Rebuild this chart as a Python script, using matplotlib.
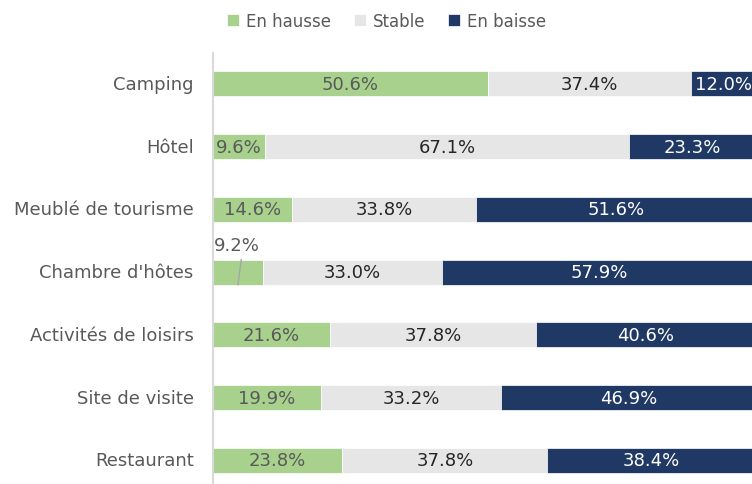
import numpy as np
import matplotlib.pyplot as plt

plt.rcParams['font.family'] = ['DejaVu Sans']

categories = ["Camping", "Hôtel", "Meublé de tourisme", "Chambre d'hôtes",
              "Activités de loisirs", "Site de visite", "Restaurant"]
hausse = [50.6, 9.6, 14.6, 9.2, 21.6, 19.9, 23.8]
stable = [37.4, 67.1, 33.8, 33.0, 37.8, 33.2, 37.8]
baisse = [12.0, 23.3, 51.6, 57.9, 40.6, 46.9, 38.4]

series = [("En hausse", hausse, "#A9D18E", "#595959"),
          ("Stable", stable, "#E7E6E6", "#262626"),
          ("En baisse", baisse, "#203864", "white")]

W, H = 752, 485
fig = plt.figure(figsize=(W / 100, H / 100), dpi=100)
top_px, bot_px = 53.5, 492.8
ax = fig.add_axes([213 / W, 1 - bot_px / H, 543 / W, (bot_px - top_px) / H])

FS = 13

y = np.arange(len(categories))
left = np.zeros(len(categories))
for name, vals, color, tcolor in series:
    vals = np.array(vals)
    ax.barh(y, vals, left=left, height=0.4, color=color,
            edgecolor="white", linewidth=0.5, label=name)
    for i, (v, l) in enumerate(zip(vals, left)):
        if name == "En hausse" and categories[i] == "Chambre d'hôtes":
            # label pulled out above the bar with a leader line
            ax.text(0.1, i - 0.44, f"{v:.1f}%", ha="left", va="center",
                    fontsize=FS, color="#595959")
            ax.plot([4.6, 5.2], [i + 0.2, i - 0.2], color="#A6A6A6", lw=1)
            continue
        ax.text(l + v / 2, i, f"{v:.1f}%", ha="center", va="center",
                fontsize=FS, color=tcolor)
    left = left + vals

ax.set_xlim(0, 100)
ax.set_ylim(len(categories) - 0.5, -0.5)
ax.set_yticks(y)
ax.set_yticklabels(categories, fontsize=FS, color="#595959", va="center")
ax.tick_params(axis="y", length=0, pad=14)
ax.set_xticks([])
for s in ["top", "right", "bottom"]:
    ax.spines[s].set_visible(False)
ax.spines["left"].set_color("#D9D9D9")
ax.spines["left"].set_linewidth(1.5)

fig.legend(loc="upper center", bbox_to_anchor=(0.514, 1.005), ncol=3,
           frameon=False, fontsize=12, handlelength=0.7, handleheight=0.7,
           columnspacing=1.4, handletextpad=0.4, labelcolor="#595959")

fig.savefig("out.png", dpi=100)
